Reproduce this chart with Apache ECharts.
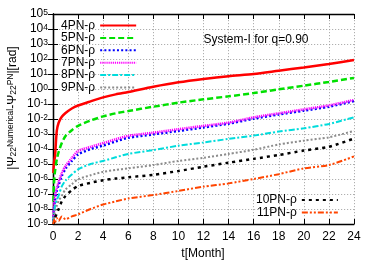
<!DOCTYPE html>
<html>
<head>
<meta charset="utf-8">
<script src="https://cdn.jsdelivr.net/npm/echarts@6/dist/echarts.min.js"></script>
<style>
html,body{margin:0;padding:0;background:#fff;}
#chart{width:376px;height:263px;}
</style>
</head>
<body>
<div id="chart"></div>
<script>
// time in months
const months = [0.03, 0.08, 0.16, 0.3, 0.45, 0.7, 1.0, 1.5, 2, 3, 4, 5, 6, 8, 10, 12, 14, 16, 18, 20, 22, 24];
// |Psi_num - Psi_PN| [rad]
const pn4  = [2.5e-6, 1.26e-5, 3.2e-5, 1.6e-3, 5.6e-3, 1.4e-2, 2.5e-2, 5.0e-2, 7.9e-2, 0.15, 0.275, 0.44, 0.63, 1.41, 2.8, 4.7, 7.2, 10, 16.6, 27.5, 46.8, 85];
const pn5  = [3.2e-8, 5.0e-7, 3.2e-6, 2.0e-5, 6.3e-5, 2.5e-4, 7.4e-4, 1.8e-3, 3.5e-3, 7.9e-3, 1.5e-2, 2.4e-2, 3.4e-2, 6.6e-2, 0.123, 0.204, 0.324, 0.537, 0.955, 1.66, 2.95, 5.5];
const pn6  = [1.6e-9, 1.0e-8, 4.0e-8, 1.6e-7, 4.0e-7, 1.6e-6, 5.0e-6, 1.6e-5, 4.4e-5, 1.0e-4, 1.7e-4, 3.2e-4, 5.6e-4, 9.5e-4, 1.6e-3, 2.75e-3, 4.9e-3, 1.05e-2, 2.0e-2, 3.6e-2, 6.6e-2, 0.158];
const pn7  = [2.5e-9, 1.6e-8, 6.3e-8, 2.5e-7, 6.3e-7, 2.5e-6, 7.4e-6, 2.5e-5, 7.4e-5, 1.4e-4, 2.5e-4, 4.5e-4, 7.6e-4, 1.23e-3, 2.1e-3, 3.5e-3, 5.75e-3, 1.3e-2, 2.4e-2, 4.4e-2, 8.1e-2, 0.186];
const pn8  = [1.26e-9, 5.0e-9, 1.6e-8, 4.0e-8, 7.9e-8, 3.2e-7, 7.9e-7, 2.0e-6, 4.4e-6, 1.0e-5, 1.6e-5, 2.8e-5, 4.7e-5, 8.5e-5, 1.66e-4, 2.75e-4, 4.7e-4, 7.8e-4, 1.45e-3, 2.4e-3, 4.7e-3, 1.3e-2];
const pn9  = [1.26e-9, 2.5e-9, 6.3e-9, 1.6e-8, 3.4e-8, 7.9e-8, 2.0e-7, 4.5e-7, 9.5e-7, 1.8e-6, 3.0e-6, 4.0e-6, 5.1e-6, 8.5e-6, 1.6e-5, 2.6e-5, 4.7e-5, 8.9e-5, 2.0e-4, 3.6e-4, 6.0e-4, 1.6e-3];
const pn10 = [1.0e-9, 1.26e-9, 2.5e-9, 5.0e-9, 1.0e-8, 3.2e-8, 7.4e-8, 1.8e-7, 3.4e-7, 5.6e-7, 8.3e-7, 1.07e-6, 1.3e-6, 1.9e-6, 3.4e-6, 6.6e-6, 1.23e-5, 2.2e-5, 4.0e-5, 7.9e-5, 1.4e-4, 5.0e-4];
const pn11 = [1.0e-9, 2.0e-9, 1.26e-9, 2.5e-9, 1.6e-9, 3.2e-9, 2.1e-9, 3.2e-9, 4.4e-9, 1.0e-8, 2.0e-8, 3.2e-8, 5.0e-8, 8.5e-8, 1.6e-7, 3.1e-7, 5.1e-7, 1.0e-6, 2.1e-6, 5.1e-6, 8.5e-6, 3.2e-5];

const names = ['4PN-ρ','5PN-ρ','6PN-ρ','7PN-ρ','8PN-ρ','9PN-ρ','10PN-ρ','11PN-ρ'];
const values = [pn4, pn5, pn6, pn7, pn8, pn9, pn10, pn11];
const colors = ['#ff0000','#00e000','#0000ff','#ff00ff','#00dcdc','#8c8c8c','#000000','#ff4500'];
const dashes = ['solid',[6,3],[2,2.2],[1.2,0.9],[6,2,2,2],[2,2],[3,4],[6,2,2,2,2,2]];
const widths = [2.5,2.5,2.5,2.5,2,2,2.5,2];

const FONT = 'Liberation Sans, Arial, Helvetica, sans-serif';

const series = names.map((n, k) => ({
  name: n,
  type: 'line',
  symbol: 'none',
  smooth: 0.25,
  data: months.map((t, i) => [t, values[k][i]]),
  lineStyle: { color: colors[k], width: widths[k], type: dashes[k] },
  itemStyle: { color: colors[k] },
  z: 2 + k
}));

const axisLine = { show: true, lineStyle: { color: '#000', width: 1.3 } };
const tick = { show: true, inside: true, length: 5, lineStyle: { color: '#000', width: 1 } };
const split = { show: true, lineStyle: { color: '#9a9a9a', width: 0.8, type: [1.2, 1.8] } };
const legendCommon = {
  orient: 'vertical', align: 'right', itemWidth: 36, itemHeight: 12, itemGap: 0.4,
  textStyle: { fontFamily: FONT, fontSize: 12, color: '#000', lineHeight: 12 },
  itemStyle: { opacity: 0, borderWidth: 0 },
  padding: 0, selectedMode: false
};

const chart = echarts.init(document.getElementById('chart'), null, { renderer: 'canvas' });
chart.setOption({
  animation: false,
  backgroundColor: '#fff',
  grid: { left: 53, right: 22, top: 14, bottom: 39, containLabel: false },
  legend: [
    Object.assign({ data: names.slice(0, 6), left: 61, top: 19.5 }, legendCommon),
    Object.assign({ data: names.slice(6), left: 256, top: 194 }, legendCommon)
  ],
  xAxis: [
    {
      type: 'value', min: 0, max: 24, interval: 2, position: 'bottom',
      axisLine: axisLine, axisTick: tick, splitLine: split,
      axisLabel: { fontFamily: FONT, fontSize: 12, color: '#000', margin: 7 }
    },
    {
      type: 'value', min: 0, max: 24, interval: 2, position: 'top',
      axisLine: axisLine, axisTick: tick, splitLine: { show: false },
      axisLabel: { show: false }
    }
  ],
  yAxis: [
    {
      type: 'log', logBase: 10, min: 1e-9, max: 1e5, interval: 1, position: 'left',
      axisLine: axisLine, axisTick: tick, splitLine: split, minorTick: { show: false },
      axisLabel: {
        margin: 5, color: '#000', showMinLabel: true, showMaxLabel: true,
        formatter: v => '{b|10}{e|' + Math.round(Math.log10(v)) + '}',
        rich: {
          b: { fontFamily: FONT, fontSize: 12, lineHeight: 12, verticalAlign: 'bottom', color: '#000' },
          e: { fontFamily: FONT, fontSize: 8.5, lineHeight: 8.5, verticalAlign: 'top', padding: [0, 0, 5.5, 0], color: '#000' }
        }
      }
    },
    {
      type: 'log', logBase: 10, min: 1e-9, max: 1e5, interval: 1, position: 'right',
      axisLine: axisLine, axisTick: tick, splitLine: { show: false },
      axisLabel: { show: false }
    }
  ],
  graphic: [
    {
      type: 'text', x: 256, y: 40,
      style: { text: 'System-I for q=0.90', font: '12px ' + FONT, fill: '#000', align: 'center', verticalAlign: 'middle' }
    },
    {
      type: 'text', x: 203, y: 254,
      style: { text: 't[Month]', font: '12px ' + FONT, fill: '#000', align: 'center', verticalAlign: 'middle' }
    },
    {
      type: 'text', x: 12.5, y: 108, rotation: Math.PI / 2,
      style: {
        text: '{m||Ψ}{sub|22}{sup|Numerical}{m|-Ψ}{sub|22}{sup|PN}{m||[rad]}',
        fill: '#000', align: 'center', verticalAlign: 'middle', font: '12px ' + FONT,
        rich: {
          m: { fontFamily: FONT, fontSize: 12, lineHeight: 12, verticalAlign: 'middle', fill: '#000' },
          sub: { fontFamily: FONT, fontSize: 8.5, lineHeight: 8.5, verticalAlign: 'bottom', padding: [9, 0, 0, 0], fill: '#000' },
          sup: { fontFamily: FONT, fontSize: 8.5, lineHeight: 8.5, verticalAlign: 'top', padding: [0, 0, 9, 0], fill: '#000' }
        }
      }
    }
  ],
  series: series
});
</script>
</body>
</html>
